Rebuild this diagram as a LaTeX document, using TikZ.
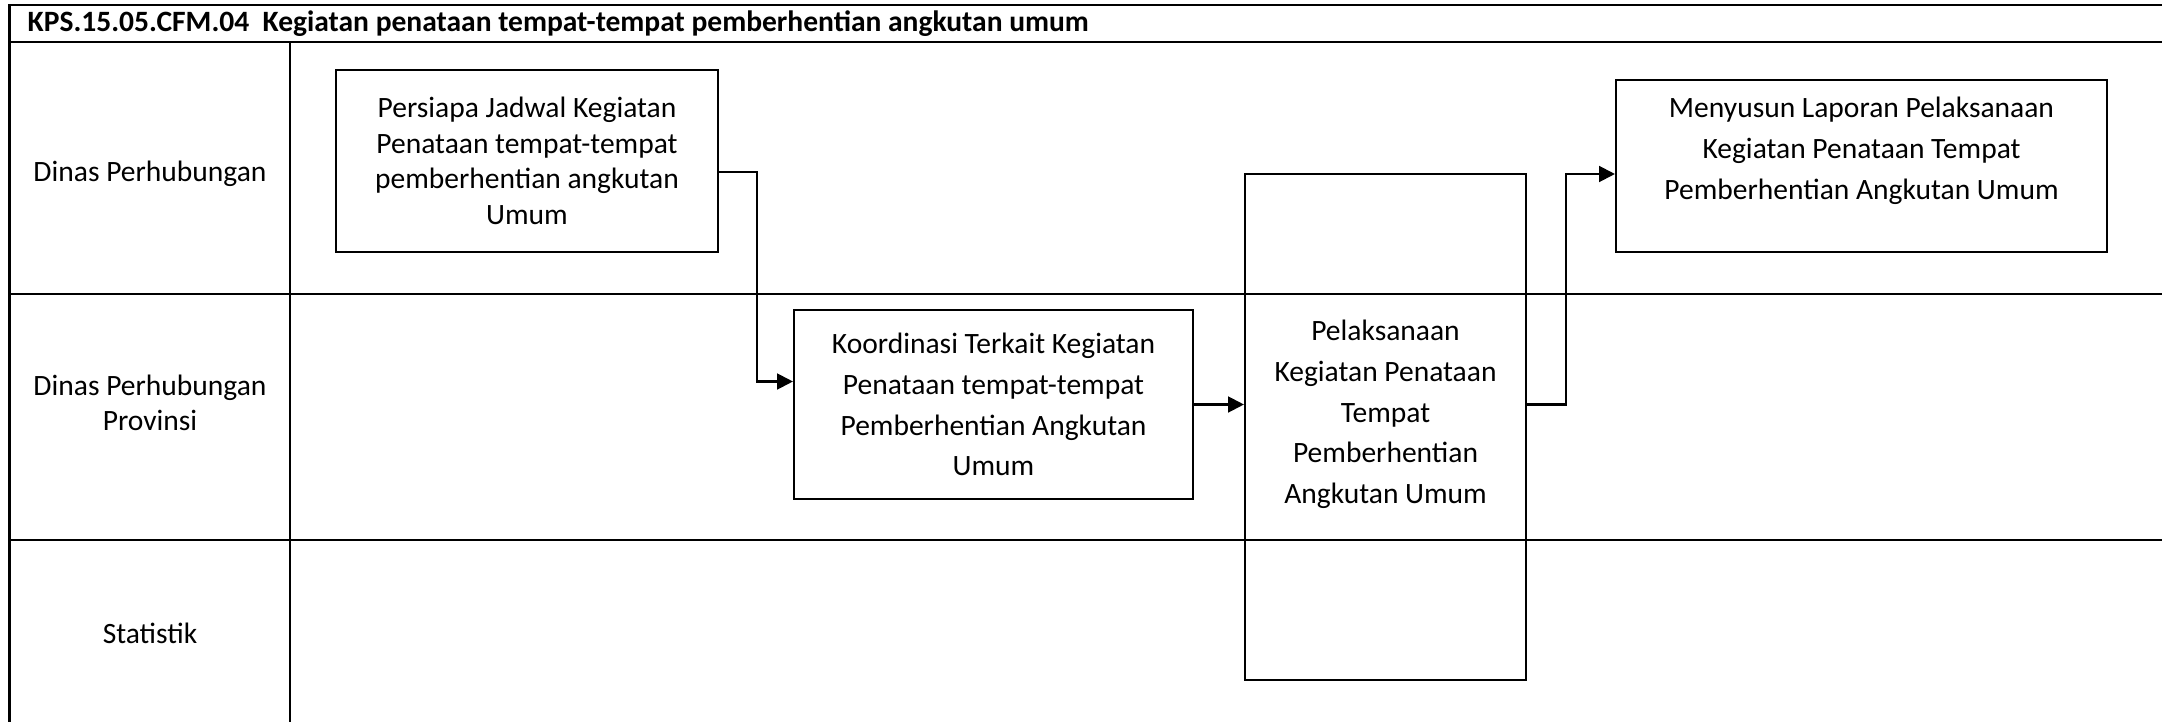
\documentclass[tikz,border=0pt]{standalone}
\usepackage{fontspec}
\setmainfont{Carlito}
\usepackage{tikz}
\usetikzlibrary{arrows.meta,positioning,calc}

\begin{document}
\begin{tikzpicture}[every node/.style={font=\fontsize{8.4}{11.6}\selectfont},
  proc/.style={draw,line width=0.6pt,align=center,inner sep=0pt},
  flow/.style={line width=0.6pt,-{Triangle[length=4.5pt,width=4.5pt]}}]
\useasboundingbox (0,0) rectangle (21.62,7.21);
\clip (0,0) rectangle (21.62,7.21);
% swimlane frame
\draw[line width=0.85pt] (0.095,-0.2) |- (21.8,7.16);
\draw[line width=0.85pt] (0.095,6.79) -- (21.8,6.79);
\draw[line width=0.8pt] (2.90,-0.2) -- (2.90,6.79);
\foreach \y in {4.27,1.81} \draw[line width=0.8pt] (0.095,\y) -- (21.8,\y);
\node[anchor=base west,inner sep=0pt,font=\fontsize{8.4}{9}\selectfont\bfseries] (title) at (0.27,6.89)
  {KPS.15.05.CFM.04\ \ Kegiatan penataan tempat-tempat pemberhentian angkutan umum};
% lanes
\node (dishub) at (1.50,5.47) {Dinas Perhubungan};
\node[align=center,font=\fontsize{8.4}{10.1}\selectfont] (dishubprov) at (1.50,3.18) {Dinas Perhubungan\\Provinsi};
\node (stat) at (1.50,0.88) {Statistik};
% activities
\node[proc,minimum width=3.82cm,minimum height=1.82cm,font=\fontsize{8.4}{10.1}\selectfont] (persiapa) at (5.27,5.60)
  {Persiapa Jadwal Kegiatan\\Penataan tempat-tempat\\pemberhentian angkutan\\Umum};
\node[proc,minimum width=3.99cm,minimum height=1.89cm] (koordinasi) at (9.935,3.165)
  {Koordinasi Terkait Kegiatan\\Penataan tempat-tempat\\Pemberhentian Angkutan\\Umum};
\node[proc,minimum width=2.81cm,minimum height=5.06cm] (pelaksanaan) at (13.855,2.94)
  {Pelaksanaan\\Kegiatan Penataan\\Tempat\\Pemberhentian\\Angkutan Umum\\[-3pt]\mbox{}};
\node[proc,minimum width=4.91cm,minimum height=1.72cm] (menyusun) at (18.615,5.55)
  {Menyusun Laporan Pelaksanaan\\Kegiatan Penataan Tempat\\Pemberhentian Angkutan Umum\\[-1.5pt]~};
% flow
\draw[flow] ([yshift=-1.1mm]persiapa.east) -- ++(0.38,0) |- ([yshift=2.3mm]koordinasi.west);
\draw[flow] (koordinasi.east) -- (koordinasi.east -| pelaksanaan.west);
\draw[flow] (koordinasi.east -| pelaksanaan.east) -- ++(0.39,0) |- ([yshift=-0.8mm]menyusun.west);
\end{tikzpicture}
\end{document}
